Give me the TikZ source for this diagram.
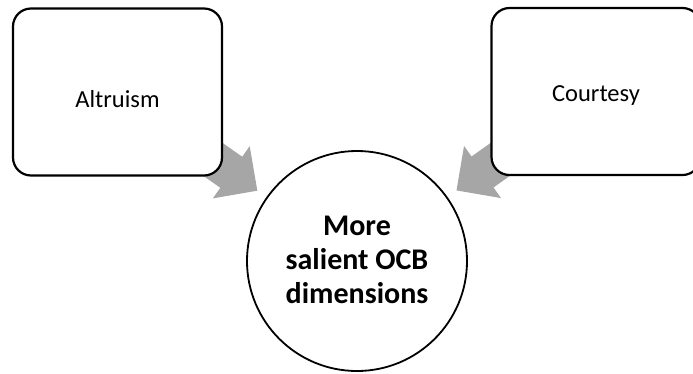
\documentclass[tikz,border=0pt]{standalone}
\usepackage{fontspec}
\setmainfont{Carlito}
\usetikzlibrary{arrows.meta,backgrounds}
\definecolor{arrowgray}{HTML}{A6A6A6}
\begin{document}
\begin{tikzpicture}[x=1pt,y=-1pt,
  roundbox/.style={draw=black, line width=2.2pt, fill=white, rounded corners=18pt,
    minimum width=209pt, minimum height=167pt, inner sep=0pt,
    font=\fontsize{24.5}{29}\selectfont, text depth=0pt},
  bigcirc/.style={draw=black, line width=1.8pt, fill=white, circle, minimum size=220pt,
    inner sep=0pt, align=center, font=\bfseries\fontsize{30}{34}\selectfont},
  bigarrow/.style={draw=arrowgray, line width=38pt, shorten >=11pt,
    -{Triangle[length=32pt,width=62pt]}}]
\useasboundingbox (0,0) rectangle (693,373);
\clip (0,0) rectangle (693,373);
\node[roundbox, text height=30pt] (lbox) at (117.5,92) {Altruism};
\node[roundbox, text height=20pt] (rbox) at (596,91.5) {Courtesy};
\node[bigcirc, text depth=2pt] (c) at (357,261) {More\\salient OCB\\dimensions};
\begin{scope}[on background layer]
\draw[bigarrow] (lbox.center) -- (c);
\draw[bigarrow] (rbox.center) -- (c);
\end{scope}
\end{tikzpicture}
\end{document}
